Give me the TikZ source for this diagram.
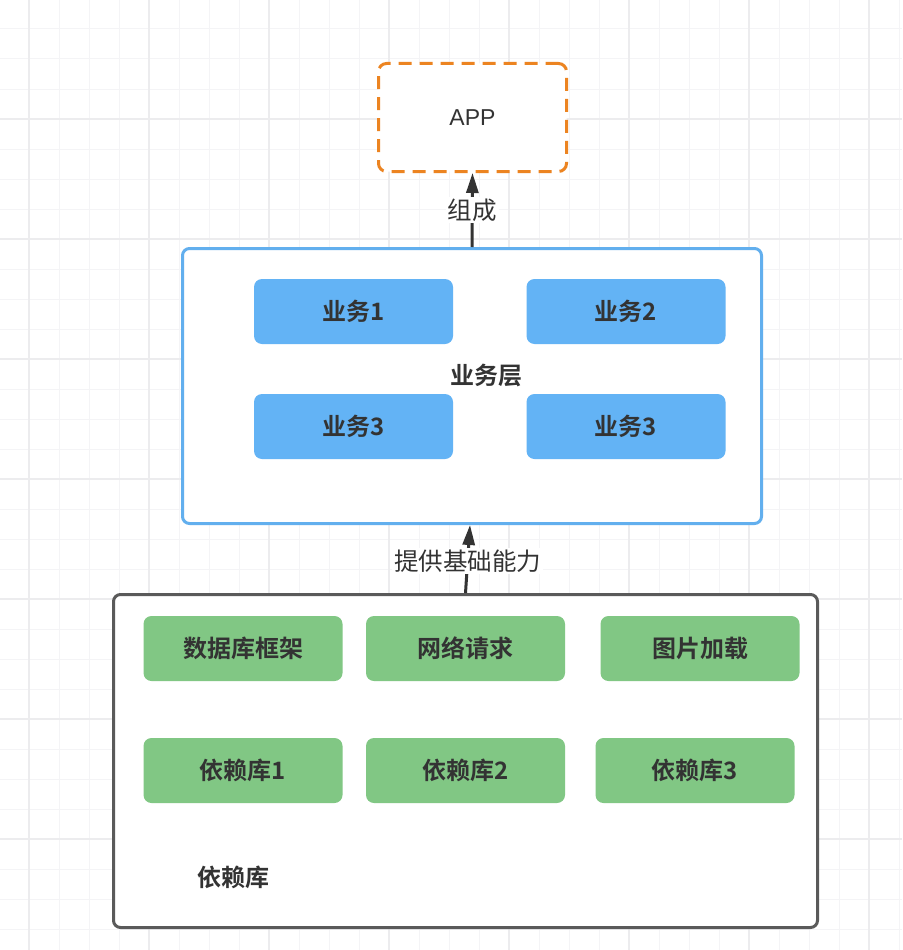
\documentclass[tikz,border=0pt]{standalone}
\usepackage{fontspec}
\setmainfont{Noto Sans CJK SC}[BoldFont={Noto Sans CJK SC Bold}]
\newfontfamily\latinfont{Liberation Sans}
\usetikzlibrary{arrows.meta}
\definecolor{gridminor}{HTML}{F4F4F6}
\definecolor{gridmajor}{HTML}{ECECEE}
\definecolor{apporange}{HTML}{EC8421}
\definecolor{bizblue}{HTML}{62AFEE}
\definecolor{bizfill}{HTML}{63B3F5}
\definecolor{depgray}{HTML}{5A5A5A}
\definecolor{depfill}{HTML}{81C784}
\definecolor{txt}{HTML}{333333}
\tikzset{
  outerbox/.style={draw, line width=3pt, rounded corners=7pt, fill=white, minimum width=#1, inner sep=0pt},
  bizitem/.style={fill=bizfill, rounded corners=8pt, minimum width=199pt, minimum height=65pt, inner sep=0pt, text=txt, font=\fontsize{24}{26}\selectfont\bfseries},
  depitem/.style={fill=depfill, rounded corners=8pt, minimum width=199pt, minimum height=65pt, inner sep=0pt, text=txt, font=\fontsize{24}{26}\selectfont\bfseries},
  boxlabel/.style={text=txt, font=\fontsize{24}{26}\selectfont\bfseries, inner sep=0pt},
  conn/.style={line width=3pt, draw=txt, -{Triangle[width=12pt,length=20pt]}},
  connlabel/.style={fill=white, text=txt, font=\fontsize{24.5}{26}\selectfont, inner sep=2pt}
}
\begin{document}
\begin{tikzpicture}[x=1pt,y=-1pt]
\useasboundingbox (0,0) rectangle (902,950);
\fill[white] (0,0) rectangle (902,950);
% grid
\foreach \i in {0,...,30} {
  \draw[gridminor, line width=1pt] ({29+30*\i},0) -- ({29+30*\i},950);
  \draw[gridminor, line width=1pt] (0,{29+30*\i}) -- (902,{29+30*\i});
}
\foreach \i in {0,...,7} {
  \draw[gridmajor, line width=1.2pt] ({29+120*\i},0) -- ({29+120*\i},950);
  \draw[gridmajor, line width=1.2pt] (0,{-1+120*\i}) -- (902,{-1+120*\i});
}
% APP
\node[draw=apporange, line width=3pt, dash pattern=on 13pt off 8pt, rounded corners=8pt, fill=white,
      minimum width=188pt, minimum height=108pt, inner sep=0pt, text=txt,
      font=\latinfont\fontsize{23}{26}\selectfont] (app) at (472.5,117.5) {APP};
% business layer
\node[outerbox=579pt, draw=bizblue, minimum height=275pt] (biz) at (472,386) {};
\node[boxlabel] (bizlabel) at (486,375) {业务层};
\node[bizitem] (b1) at (353.5,311.5) {业务1};
\node[bizitem] (b2) at (626,311.5) {业务2};
\node[bizitem] (b3) at (353.5,426.5) {业务3};
\node[bizitem] (b4) at (626,426.5) {业务3};
% dependency layer
\node[outerbox=704pt, draw=depgray, minimum height=333pt] (dep) at (465.5,761) {};
\node[boxlabel] (deplabel) at (233,877) {依赖库};
\node[depitem] (d1) at (243,648.5) {数据库框架};
\node[depitem] (d2) at (465.5,648.5) {网络请求};
\node[depitem] (d3) at (700,648.5) {图片加载};
\node[depitem] (d4) at (243,770.5) {依赖库1};
\node[depitem] (d5) at (465.5,770.5) {依赖库2};
\node[depitem] (d6) at (695,770.5) {依赖库3};
% connectors
\draw[conn] (biz.north) -- node[connlabel] {组成} (app.south);
\draw[conn] (dep.north) -- node[connlabel, pos=0.47] {提供基础能力} ([xshift=-2pt]biz.south);
\end{tikzpicture}
\end{document}
